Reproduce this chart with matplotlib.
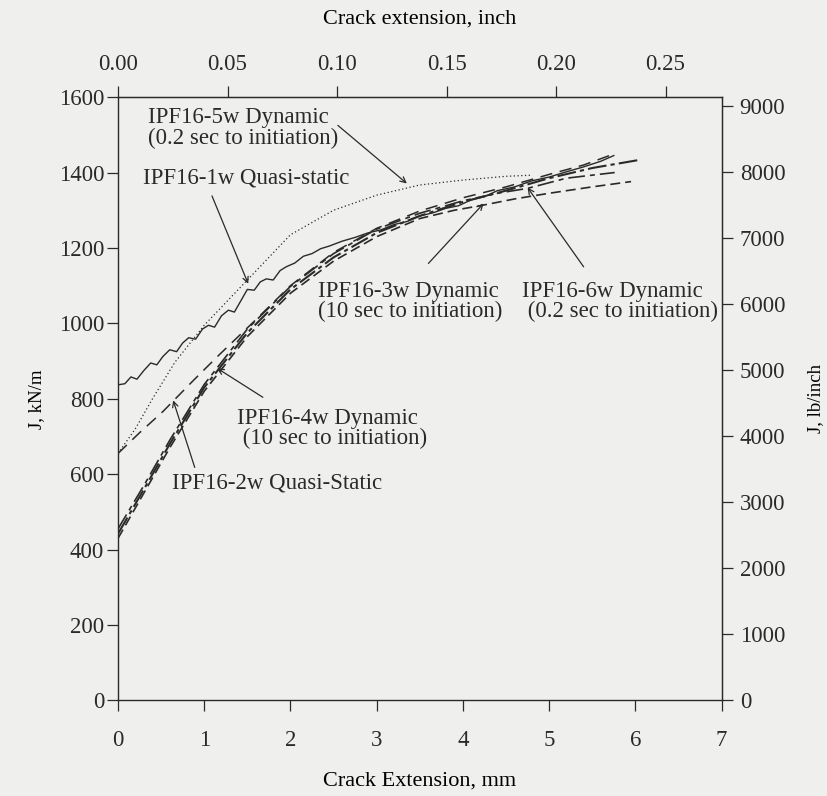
import numpy as np
import matplotlib
matplotlib.use('Agg')
import matplotlib.pyplot as plt

plt.rcParams['font.family'] = ['Liberation Serif', 'DejaVu Serif']

# crack extension (mm) vs J (kN/m)
x_1w = [0.00, 0.08, 0.15, 0.22, 0.30, 0.38, 0.45, 0.52, 0.60, 0.68, 0.75, 0.82, 0.90, 0.98,
        1.05, 1.12, 1.20, 1.28, 1.35, 1.42, 1.50, 1.58, 1.65, 1.72, 1.80, 1.88, 1.95, 2.05,
        2.15, 2.25, 2.35, 2.45, 2.60, 2.75, 2.90, 3.05, 3.20, 3.35, 3.50, 3.65, 3.80, 3.95,
        4.10, 4.25, 4.40, 4.60, 4.80, 5.00, 5.20, 5.40, 5.60, 5.75]
j_1w = [837, 840, 858, 852, 875, 895, 890, 912, 930, 925, 948, 962, 958, 985,
        995, 990, 1020, 1035, 1030, 1058, 1090, 1088, 1110, 1118, 1115, 1140, 1150, 1160,
        1178, 1185, 1198, 1205, 1218, 1228, 1240, 1248, 1262, 1270, 1285, 1293, 1305, 1312,
        1328, 1336, 1352, 1362, 1378, 1388, 1402, 1415, 1430, 1445]

x_5w = [0.0, 0.2, 0.4, 0.66, 1.0, 1.5, 2.0, 2.5, 3.0, 3.5, 4.0, 4.5, 4.8]
j_5w = [655, 720, 800, 897, 995, 1115, 1235, 1300, 1340, 1367, 1380, 1390, 1393]

x_2w = [0.0, 0.25, 0.52, 0.88, 1.18, 1.6, 2.0, 2.5, 3.0, 3.5, 4.0, 4.5, 5.0, 5.4, 5.76]
j_2w = [655, 710, 766, 850, 918, 1010, 1100, 1188, 1252, 1298, 1333, 1362, 1395, 1420, 1450]

x_4w = [0.0, 0.3, 0.6, 1.0, 1.5, 2.0, 2.5, 3.0, 3.5, 4.0, 4.5, 5.0, 5.5, 6.06]
j_4w = [442, 560, 680, 830, 975, 1090, 1175, 1240, 1285, 1322, 1352, 1385, 1412, 1434]

x_3w = [0.0, 0.3, 0.6, 1.0, 1.5, 2.0, 2.5, 3.0, 3.5, 3.9, 4.2, 4.6, 5.0, 5.5, 5.95]
j_3w = [430, 550, 670, 820, 965, 1080, 1165, 1230, 1278, 1300, 1312, 1330, 1345, 1362, 1376]

x_6w = [0.0, 0.3, 0.6, 1.0, 1.5, 2.0, 2.5, 3.0, 3.5, 4.0, 4.4, 4.75, 5.2, 5.76]
j_6w = [455, 570, 690, 838, 985, 1098, 1185, 1250, 1292, 1325, 1345, 1358, 1385, 1400]

KN_PER_LBIN = 0.17513
MM_PER_IN = 25.4
bg = '#efefed'
ink = '#2a2a2a'

fig = plt.figure(figsize=(8.28, 7.96), dpi=100, facecolor=bg)
ax = fig.add_axes([0.1425, 0.12, 0.729, 0.758], facecolor=bg)

ax.plot(x_1w, j_1w, color=ink, lw=1.0)
ax.plot(x_5w, j_5w, color=ink, lw=0.9, linestyle=(0, (1, 2)))
ax.plot(x_2w, j_2w, color=ink, lw=1.1, linestyle=(0, (8, 5)))
ax.plot(x_4w, j_4w, color=ink, lw=1.5, linestyle=(0, (9, 2, 2, 2)))
ax.plot(x_3w, j_3w, color=ink, lw=1.2, linestyle=(0, (6, 3)))
ax.plot(x_6w, j_6w, color=ink, lw=1.2, linestyle=(0, (10, 3, 3, 3)))

ax.set_xlim(0, 7)
ax.set_ylim(0, 1600)
ax.set_xticks(range(0, 8))
ax.set_yticks(range(0, 1601, 200))
ax.set_xlabel('Crack Extension, mm', fontsize=16, labelpad=15)
ax.set_ylabel('J, kN/m', fontsize=13.5, labelpad=10)

top = ax.secondary_xaxis('top', functions=(lambda v: v / MM_PER_IN, lambda v: v * MM_PER_IN))
top.set_xticks([0.00, 0.05, 0.10, 0.15, 0.20, 0.25])
top.set_xticklabels(['0.00', '0.05', '0.10', '0.15', '0.20', '0.25'])
top.set_xlabel('Crack extension, inch', fontsize=16, labelpad=22)

right = ax.secondary_yaxis('right', functions=(lambda v: v / KN_PER_LBIN, lambda v: v * KN_PER_LBIN))
right.set_yticks(range(0, 9001, 1000))
right.set_ylabel('J, lb/inch', fontsize=13.5, labelpad=16)

tsz = 16.5
ax.tick_params(axis='y', direction='out', length=8, width=0.9, color=ink, labelcolor=ink,
               labelsize=tsz, pad=2)
ax.tick_params(axis='x', direction='out', length=8, width=0.9, color=ink, labelcolor=ink,
               labelsize=tsz, pad=13)
top.tick_params(direction='out', length=8, width=0.9, color=ink, labelcolor=ink, labelsize=tsz, pad=8)
right.tick_params(direction='out', length=8, width=0.9, color=ink, labelcolor=ink, labelsize=tsz, pad=5)
for s in ax.spines.values():
    s.set_color(ink)
    s.set_linewidth(1.0)
for a in (top, right):
    for s in a.spines.values():
        s.set_color(ink)

arrow = dict(arrowstyle='->', lw=0.9, color=ink, shrinkA=0, shrinkB=0)
fs = 16.5
ax.text(0.35, 1518, 'IPF16-5w Dynamic\n(0.2 sec to initiation)', fontsize=fs, color=ink,
        va='center', linespacing=0.95)
ax.annotate('', xy=(3.35, 1371), xytext=(2.55, 1525), arrowprops=arrow)

ax.text(0.29, 1385, 'IPF16-1w Quasi-static', fontsize=fs, color=ink, va='center')
ax.annotate('', xy=(1.51, 1105), xytext=(1.09, 1338), arrowprops=arrow)

ax.text(2.32, 1058, 'IPF16-3w Dynamic\n(10 sec to initiation)', fontsize=fs, color=ink,
        va='center', linespacing=0.95)
ax.annotate('', xy=(4.24, 1318), xytext=(3.6, 1159), arrowprops=arrow)

ax.text(4.69, 1058, 'IPF16-6w Dynamic\n (0.2 sec to initiation)', fontsize=fs, color=ink,
        va='center', linespacing=0.95)
ax.annotate('', xy=(4.75, 1360), xytext=(5.4, 1150), arrowprops=arrow)

ax.text(1.38, 721, 'IPF16-4w Dynamic\n (10 sec to initiation)', fontsize=fs, color=ink,
        va='center', linespacing=0.95)
ax.annotate('', xy=(1.15, 881), xytext=(1.68, 804), arrowprops=arrow)

ax.text(0.63, 578, 'IPF16-2w Quasi-Static', fontsize=fs, color=ink, va='center')
ax.annotate('', xy=(0.64, 796), xytext=(0.89, 618), arrowprops=arrow)

fig.savefig('out.png', dpi=100, facecolor=bg)
